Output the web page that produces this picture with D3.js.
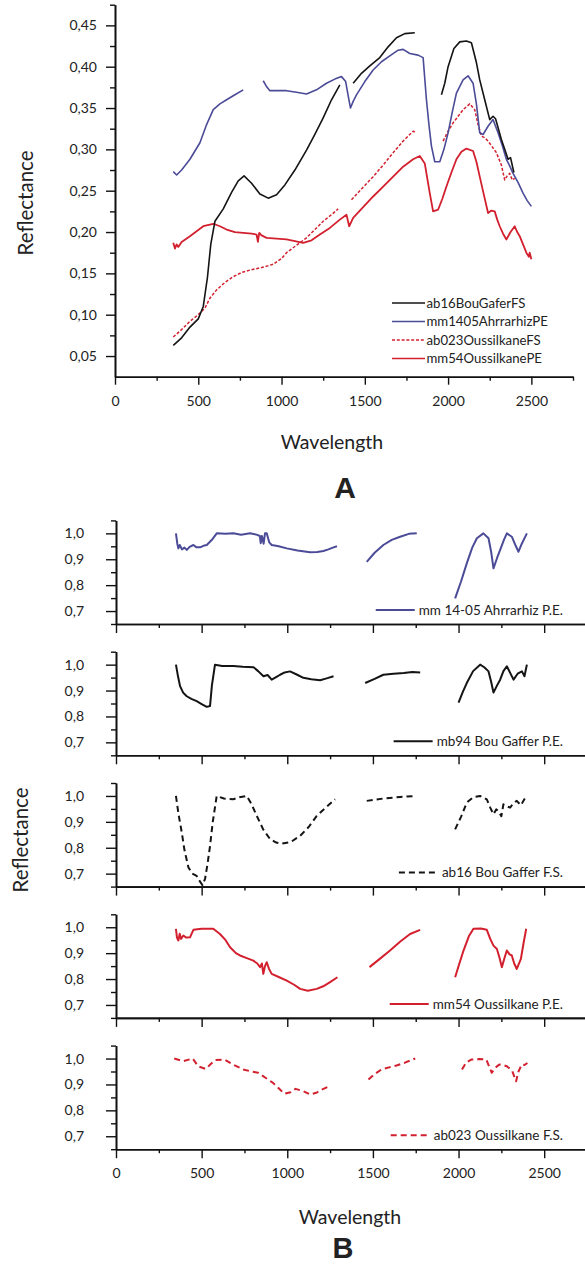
<!DOCTYPE html>
<html>
<head>
<meta charset="utf-8">
<script src="https://cdn.jsdelivr.net/npm/d3@7"></script>
<style>
  body { margin: 0; background: #fff; }
  svg text { font-family: Lato, "Open Sans", sans-serif; fill: #222; }
</style>
</head>
<body>
<svg id="fig" width="585" height="1268"></svg>
<script>
// ---- data ----
const wlMajor = [0, 500, 1000, 1500, 2000, 2500];
const wlMinor = [250, 750, 1250, 1750, 2250, 2750];

const refMajorA = [0.05, 0.10, 0.15, 0.20, 0.25, 0.30, 0.35, 0.40, 0.45];
const refMinorA = [0.075, 0.125, 0.175, 0.225, 0.275, 0.325, 0.375, 0.425, 0.475];
const refMajorB = [0.7, 0.8, 0.9, 1.0];
const refMinorB = [0.65, 0.75, 0.85, 0.95, 1.05];

const legendA = ["ab16BouGaferFS", "mm1405AhrrarhizPE", "ab023OussilkaneFS", "mm54OussilkanePE"];
const legendB = ["mm 14-05 Ahrrarhiz P.E.", "mb94 Bou Gaffer P.E.", "ab16 Bou Gaffer F.S.", "mm54 Oussilkane P.E.", "ab023 Oussilkane F.S."];

// panel A : reflectance, each series split in segments [wavelength, value]
const ab16FS_A = [
  [[350,0.063],[400,0.072],[450,0.085],[500,0.095],[530,0.110],[555,0.145],[575,0.185],[600,0.213],[650,0.228],[700,0.248],[740,0.262],[775,0.268],[820,0.259],[870,0.246],[920,0.241],[970,0.245],[1020,0.257],[1080,0.275],[1150,0.299],[1200,0.318],[1250,0.338],[1300,0.360],[1350,0.378]],
  [[1430,0.380],[1480,0.392],[1530,0.401],[1590,0.411],[1640,0.424],[1690,0.435],[1740,0.440],[1800,0.441]],
  [[1960,0.366],[1980,0.380],[2000,0.400],[2035,0.422],[2070,0.430],[2110,0.431],[2140,0.429],[2170,0.405],[2190,0.384],[2220,0.360],[2250,0.336],[2270,0.340],[2285,0.337],[2320,0.312],[2340,0.300],[2360,0.288],[2375,0.290],[2395,0.272]]
];
const mm1405PE_A = [
  [[350,0.273],[370,0.269],[400,0.275],[450,0.288],[510,0.308],[550,0.330],[590,0.348],[630,0.355],[670,0.360],[720,0.366],[770,0.372]],
  [[890,0.383],[910,0.376],[930,0.371],[980,0.371],[1030,0.371],[1090,0.369],[1150,0.367],[1210,0.372],[1270,0.380],[1320,0.385],[1360,0.388],[1385,0.382],[1400,0.365],[1414,0.350],[1430,0.358],[1450,0.366],[1500,0.382],[1550,0.396],[1600,0.406],[1650,0.413],[1700,0.420],[1730,0.421],[1770,0.416],[1820,0.414],[1850,0.411],[1870,0.360],[1885,0.330],[1900,0.304],[1920,0.285],[1950,0.285],[1975,0.300],[2000,0.320],[2025,0.345],[2050,0.368],[2090,0.384],[2120,0.389],[2150,0.380],[2170,0.355],[2190,0.320],[2210,0.318],[2240,0.328],[2270,0.336],[2300,0.320],[2325,0.305],[2350,0.288],[2370,0.280],[2390,0.271],[2420,0.260],[2450,0.247],[2475,0.238],[2500,0.231]]
];
const ab023FS_A = [
  [[350,0.073],[400,0.082],[450,0.092],[500,0.100],[540,0.108],[570,0.120],[610,0.130],[660,0.139],[710,0.146],[760,0.151],[810,0.154],[880,0.157],[950,0.161],[1000,0.168],[1030,0.175],[1090,0.184],[1150,0.193],[1200,0.203],[1250,0.213],[1300,0.221],[1340,0.228]],
  [[1420,0.239],[1480,0.252],[1550,0.267],[1610,0.281],[1670,0.296],[1730,0.310],[1790,0.322],[1810,0.320]],
  [[1970,0.310],[2000,0.322],[2030,0.332],[2060,0.340],[2090,0.348],[2130,0.355],[2160,0.348],[2180,0.330],[2200,0.316],[2220,0.314],[2240,0.310],[2265,0.303],[2290,0.296],[2320,0.281],[2340,0.263],[2355,0.268],[2370,0.271],[2385,0.263],[2400,0.265]]
];
const mm54PE_A = [
  [[350,0.187],[360,0.180],[370,0.185],[380,0.182],[400,0.188],[450,0.195],[490,0.201],[530,0.207],[590,0.210],[630,0.207],[670,0.203],[720,0.200],[770,0.199],[820,0.198],[850,0.197],[858,0.188],[866,0.199],[880,0.196],[910,0.193],[970,0.192],[1030,0.191],[1080,0.189],[1130,0.187],[1180,0.190],[1230,0.197],[1290,0.205],[1350,0.215],[1390,0.221],[1406,0.207],[1430,0.217],[1490,0.230],[1550,0.243],[1610,0.255],[1670,0.267],[1730,0.279],[1790,0.288],[1830,0.292],[1860,0.283],[1875,0.265],[1890,0.247],[1910,0.225],[1940,0.227],[1965,0.240],[1990,0.255],[2020,0.272],[2050,0.288],[2080,0.297],[2110,0.301],[2150,0.298],[2170,0.285],[2190,0.267],[2215,0.245],[2240,0.223],[2260,0.226],[2280,0.225],[2295,0.215],[2310,0.207],[2330,0.198],[2350,0.191],[2375,0.200],[2400,0.207],[2415,0.200],[2430,0.195],[2450,0.185],[2470,0.175],[2485,0.170],[2490,0.175],[2500,0.167]]
];

// panel B : continuum removed spectra
const mm1405_B = [
  [[350,1.0],[358,0.96],[364,0.942],[372,0.955],[385,0.938],[400,0.945],[413,0.936],[430,0.948],[452,0.955],[470,0.946],[491,0.946],[510,0.952],[530,0.955],[560,0.975],[588,1.0],[640,0.998],[685,1.0],[730,0.995],[783,1.0],[820,0.995],[840,0.99],[845,0.962],[852,0.99],[862,0.96],[870,1.0],[880,1.0],[895,0.965],[909,0.955],[950,0.950],[997,0.942],[1060,0.934],[1133,0.927],[1175,0.928],[1211,0.932],[1240,0.938],[1270,0.946],[1290,0.95]],
  [[1464,0.890],[1510,0.925],[1561,0.955],[1610,0.975],[1659,0.987],[1710,0.998],[1756,1.0]],
  [[1980,0.749],[2015,0.815],[2048,0.884],[2080,0.945],[2107,0.981],[2145,1.0],[2175,0.981],[2190,0.93],[2204,0.865],[2225,0.905],[2243,0.936],[2265,0.975],[2282,1.0],[2311,0.987],[2335,0.95],[2350,0.929],[2370,0.961],[2399,1.0]]
];
const mb94_B = [
  [[350,1.0],[362,0.955],[374,0.917],[392,0.892],[413,0.878],[440,0.868],[471,0.859],[500,0.848],[530,0.837],[549,0.84],[560,0.92],[578,1.0],[620,0.995],[685,0.995],[740,0.992],[803,0.99],[830,0.975],[861,0.955],[885,0.96],[909,0.942],[935,0.952],[958,0.961],[985,0.97],[1016,0.974],[1055,0.962],[1094,0.949],[1140,0.944],[1192,0.940],[1230,0.947],[1270,0.955]],
  [[1455,0.929],[1510,0.945],[1561,0.961],[1620,0.965],[1680,0.968],[1730,0.972],[1776,0.97]],
  [[2000,0.853],[2025,0.895],[2048,0.929],[2085,0.975],[2126,1.0],[2150,0.99],[2175,0.974],[2190,0.935],[2204,0.892],[2225,0.92],[2243,0.942],[2262,0.975],[2282,0.994],[2300,0.97],[2321,0.942],[2345,0.965],[2370,0.974],[2385,0.955],[2399,1.0]]
];
const ab16_B = [
  [[350,1.0],[365,0.93],[384,0.859],[400,0.79],[423,0.724],[445,0.70],[471,0.691],[490,0.67],[505,0.655],[520,0.68],[535,0.74],[549,0.807],[565,0.90],[588,1.0],[630,0.99],[685,0.987],[720,0.995],[763,1.0],[790,0.97],[822,0.923],[860,0.87],[900,0.833],[935,0.82],[968,0.816],[1020,0.822],[1075,0.846],[1125,0.88],[1172,0.923],[1225,0.955],[1279,0.987]],
  [[1464,0.981],[1560,0.99],[1659,0.996],[1746,1.0]],
  [[1980,0.871],[2015,0.92],[2048,0.974],[2085,0.995],[2126,1.0],[2165,0.987],[2185,0.955],[2204,0.929],[2220,0.948],[2233,0.942],[2250,0.922],[2262,0.968],[2280,0.96],[2301,0.955],[2320,0.972],[2340,0.981],[2364,0.964],[2395,1.0]]
];
const mm54_B = [
  [[350,0.994],[356,0.96],[364,0.949],[372,0.975],[380,0.955],[393,0.968],[410,0.96],[432,0.961],[452,0.99],[500,0.994],[568,0.994],[607,0.974],[640,0.95],[666,0.923],[700,0.90],[724,0.891],[760,0.882],[802,0.871],[825,0.86],[841,0.846],[852,0.86],[860,0.82],[870,0.85],[880,0.865],[893,0.84],[909,0.82],[950,0.808],[997,0.794],[1040,0.778],[1075,0.762],[1120,0.755],[1172,0.762],[1210,0.772],[1250,0.788],[1293,0.807]],
  [[1480,0.846],[1540,0.878],[1600,0.910],[1660,0.945],[1717,0.974],[1776,0.99]],
  [[1980,0.807],[2005,0.86],[2029,0.910],[2060,0.965],[2087,0.994],[2130,0.995],[2165,0.99],[2185,0.955],[2204,0.929],[2224,0.916],[2240,0.88],[2253,0.846],[2270,0.885],[2282,0.910],[2298,0.895],[2311,0.891],[2325,0.86],[2340,0.839],[2364,0.878],[2380,0.94],[2395,0.994]]
];
const ab023_B = [
  [[340,1.0],[393,0.99],[448,1.0],[480,0.97],[524,0.96],[555,0.98],[579,0.994],[633,0.996],[690,0.975],[742,0.958],[790,0.95],[830,0.945],[875,0.925],[917,0.906],[950,0.885],[983,0.864],[1020,0.87],[1048,0.883],[1090,0.875],[1135,0.861],[1170,0.868],[1201,0.88],[1255,0.896]],
  [[1474,0.919],[1510,0.94],[1550,0.958],[1600,0.967],[1638,0.973],[1690,0.985],[1747,1.0]],
  [[2020,0.958],[2045,0.985],[2074,0.996],[2120,0.998],[2162,0.996],[2194,0.945],[2215,0.965],[2238,0.977],[2260,0.975],[2282,0.97],[2300,0.96],[2314,0.951],[2336,0.912],[2350,0.95],[2369,0.977],[2385,0.975],[2402,0.983]]
];

// ---- styles ----
const BLACK = "#141414", BLUE = "#4b4b98", RED = "#d3202f";
const comma = f => (d => d3.format(f)(d).replace(".", ","));

const svg = d3.select("#fig");

// draw a set of segments for one series
function drawSeries(g, x, y, segs, color, width, dash) {
  const line = d3.line().x(d => x(d[0])).y(d => y(d[1])).curve(d3.curveLinear);
  g.selectAll(null).data(segs).enter().append("path")
    .attr("d", line)
    .attr("fill", "none")
    .attr("stroke", color)
    .attr("stroke-width", width)
    .attr("stroke-linejoin", "round")
    .attr("stroke-dasharray", dash || null);
}

function styleAxis(g) {
  g.selectAll("path.domain").attr("stroke", "#111").attr("stroke-width", 1.6);
  g.selectAll(".tick line").attr("stroke", "#111").attr("stroke-width", 1.4);
  g.selectAll(".tick text").attr("font-size", 14).attr("fill", "#2a2a2a")
    .attr("font-family", "Lato, 'Open Sans', sans-serif");
}

// ================= Panel A =================
const xA = d3.scaleLinear().domain([0, 2750]).range([115, 573]);
const yA = d3.scaleLinear().domain([0.025, 0.475]).range([376.7, 4.7]);

const gA = svg.append("g");

gA.append("g").attr("transform", "translate(0,376.7)")
  .call(d3.axisBottom(xA).tickValues(wlMinor).tickSize(4).tickSizeOuter(0).tickFormat(""))
  .call(styleAxis);
gA.append("g").attr("transform", "translate(0,376.7)")
  .call(d3.axisBottom(xA).tickValues(wlMajor).tickSize(8).tickSizeOuter(0).tickPadding(11).tickFormat(d3.format("d")))
  .call(styleAxis);
gA.append("g").attr("transform", "translate(115,0)")
  .call(d3.axisLeft(yA).tickValues(refMinorA).tickSize(5).tickSizeOuter(0).tickFormat(""))
  .call(styleAxis);
gA.append("g").attr("transform", "translate(115,0)")
  .call(d3.axisLeft(yA).tickValues(refMajorA).tickSize(9).tickSizeOuter(0).tickPadding(9).tickFormat(comma(".2f")))
  .call(styleAxis);

drawSeries(gA, xA, yA, ab023FS_A, RED, 1.5, "3,1.8");
drawSeries(gA, xA, yA, mm54PE_A, RED, 1.8);
drawSeries(gA, xA, yA, mm1405PE_A, BLUE, 1.6);
drawSeries(gA, xA, yA, ab16FS_A, BLACK, 1.6);

// legend A
const legA = gA.append("g");
const legStyleA = [[BLACK, null], [BLUE, null], [RED, "3,1.8"], [RED, null]];
legendA.forEach((name, i) => {
  const ly = 303 + i * 18.5;
  legA.append("line").attr("x1", 392).attr("x2", 425).attr("y1", ly).attr("y2", ly)
    .attr("stroke", legStyleA[i][0]).attr("stroke-width", 1.6)
    .attr("stroke-dasharray", legStyleA[i][1]);
  legA.append("text").attr("x", 426.5).attr("y", ly + 4.8).attr("font-size", 13.2).text(name);
});

gA.append("text").attr("text-anchor", "middle")
  .attr("transform", "translate(26,203)rotate(-90)")
  .attr("dy", "0.35em").attr("font-size", 20.5).text("Reflectance");
gA.append("text").attr("text-anchor", "middle").attr("x", 332).attr("y", 449)
  .attr("font-size", 19.5).text("Wavelength");
gA.append("text").attr("text-anchor", "middle").attr("x", 345).attr("y", 498)
  .attr("font-size", 30).attr("font-weight", "bold")
  .style("font-family", "'Liberation Sans', Arial, sans-serif").text("A");

// ================= Panel B =================
const xB = d3.scaleLinear().domain([0, 2750]).range([116, 587]);
const panelsB = [
  { segs: mm1405_B, color: BLUE,  dash: null },
  { segs: mb94_B,   color: BLACK, dash: null },
  { segs: ab16_B,   color: BLACK, dash: "6,4" },
  { segs: mm54_B,   color: RED,   dash: null },
  { segs: ab023_B,  color: RED,   dash: "6,4" }
];

panelsB.forEach((p, i) => {
  const base = 624 + i * 131.3;
  const y = d3.scaleLinear().domain([0.65, 1.05]).range([base, base - 103.6]);
  const g = svg.append("g");
  const last = i === panelsB.length - 1;

  g.append("g").attr("transform", "translate(0," + base + ")")
    .call(d3.axisBottom(xB).tickValues(wlMinor).tickSize(4).tickSizeOuter(0).tickFormat(""))
    .call(styleAxis);
  g.append("g").attr("transform", "translate(0," + base + ")")
    .call(d3.axisBottom(xB).tickValues(wlMajor).tickSize(9).tickSizeOuter(0).tickPadding(10)
      .tickFormat(last ? d3.format("d") : ""))
    .call(styleAxis);
  g.append("g").attr("transform", "translate(116,0)")
    .call(d3.axisLeft(y).tickValues(refMinorB).tickSize(5).tickSizeOuter(0).tickFormat(""))
    .call(styleAxis);
  g.append("g").attr("transform", "translate(116,0)")
    .call(d3.axisLeft(y).tickValues(refMajorB).tickSize(10).tickSizeOuter(0).tickPadding(22).tickFormat(comma(".1f")))
    .call(styleAxis);

  drawSeries(g, xB, y, p.segs, p.color, 2, p.dash);

  // legend in the lower right corner
  const ly = base - 14;
  const t = g.append("text").attr("text-anchor", "end").attr("x", 563).attr("y", ly + 4.8)
    .attr("font-size", 13.5).text(legendB[i]);
  const tw = t.node().getComputedTextLength();
  g.append("line").attr("x1", 563 - tw - 43).attr("x2", 563 - tw - 4).attr("y1", ly).attr("y2", ly)
    .attr("stroke", p.color).attr("stroke-width", 2).attr("stroke-dasharray", p.dash);
});

svg.append("text").attr("text-anchor", "middle")
  .attr("transform", "translate(21,840)rotate(-90)")
  .attr("dy", "0.35em").attr("font-size", 20.5).text("Reflectance");
svg.append("text").attr("text-anchor", "middle").attr("x", 350).attr("y", 1224)
  .attr("font-size", 19.5).text("Wavelength");
svg.append("text").attr("text-anchor", "middle").attr("x", 343).attr("y", 1258)
  .attr("font-size", 29).attr("font-weight", "bold")
  .style("font-family", "'Liberation Sans', Arial, sans-serif").text("B");
</script>
</body>
</html>
